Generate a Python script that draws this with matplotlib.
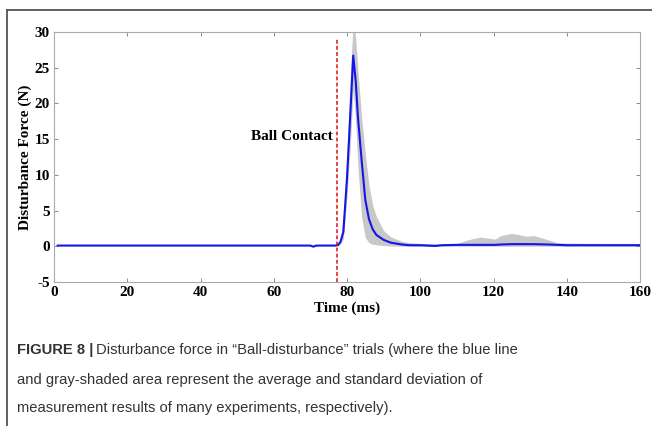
import matplotlib
matplotlib.use("Agg")
import matplotlib.pyplot as plt
import numpy as np
from matplotlib.lines import Line2D

# ---- data ----
time_ms = [1, 70, 70.8, 71.6, 77, 77.6, 78.2, 79, 80, 81, 81.7, 82.4, 83,
           84, 85, 86, 87, 88, 90, 92, 95, 97, 100, 104, 106, 110, 113, 116.3,
           120.4, 122, 125, 127.2, 129, 131, 135, 137.5, 140, 150, 160]
mean_force = [0.1, 0.1, -0.05, 0.1, 0.1, 0.2, 0.6, 2.0, 9.5, 19.5, 26.7, 23.0, 18.0,
              12.0, 6.5, 3.8, 2.4, 1.6, 0.9, 0.5, 0.25, 0.15, 0.15, 0.05, 0.15, 0.2, 0.2, 0.2,
              0.2, 0.25, 0.3, 0.3, 0.3, 0.3, 0.25, 0.2, 0.15, 0.15, 0.15]
upper_force = [0.1, 0.1, 0.05, 0.1, 0.1, 0.3, 1.0, 4.0, 13.0, 25.0, 31.5, 29.0, 24.5,
               18.0, 13.0, 8.5, 5.8, 4.2, 2.2, 1.3, 0.7, 0.5, 0.4, 0.35, 0.35, 0.4, 0.9, 1.3,
               1.0, 1.5, 1.8, 1.6, 1.4, 1.5, 0.9, 0.5, 0.45, 0.4, 0.4]
lower_force = [0.1, 0.1, -0.1, 0.1, 0.1, 0.1, 0.3, 1.0, 7.0, 15.0, 22.0, 17.0, 11.0,
               4.0, 1.2, 0.5, 0.3, 0.2, 0.1, 0.05, 0.0, 0.0, 0.0, 0.0, 0.0, 0.0, 0.0, 0.0,
               0.0, 0.0, 0.0, 0.0, 0.0, 0.0, 0.0, 0.0, 0.0, 0.0, 0.0]
contact_time = 77.4
x_ticks = [0, 20, 40, 60, 80, 100, 120, 140, 160]
y_ticks = [-5, 0, 5, 10, 15, 20, 25, 30]

serif = ["Liberation Serif", "DejaVu Serif"]
fs = 11

fig = plt.figure(figsize=(6.52, 4.26), dpi=100)
ax = fig.add_axes([54/652, 1-282/426, 586/652, 250/426])

ax.fill_between(time_ms, lower_force, upper_force, color="#c8c8c8", lw=0, zorder=1)
ax.plot(time_ms, mean_force, color="#1515e6", lw=1.5, zorder=3)
ax.axvline(contact_time, ymin=0, ymax=(29 + 5) / 35, color="#e01010", ls=(0, (2.5, 1.5)), lw=1.1, zorder=4)
ax.text(contact_time - 1.3, 15.3, "Ball Contact", ha="right", va="center",
        fontsize=fs, fontweight="bold", family=serif)

ax.set_xlim(0, 160)
ax.set_ylim(-5, 30)
ax.set_xticks(x_ticks)
ax.set_yticks(y_ticks)
ax.set_xticklabels([str(v) for v in x_ticks], fontsize=fs, fontweight="bold", family=serif)
ax.set_yticklabels([str(v) for v in y_ticks], fontsize=fs, fontweight="bold", family=serif)
ax.tick_params(direction="in", length=3, width=0.6, color="#777777", top=True, right=True)
ax.tick_params(axis="x", pad=3)
ax.tick_params(axis="y", pad=3)
for s in ax.spines.values():
    s.set_color("#aaaaaa")
    s.set_linewidth(0.8)
ax.set_xlabel("Time (ms)", fontsize=fs, fontweight="bold", family=serif, labelpad=2)
ax.set_ylabel("Disturbance Force (N)", fontsize=fs, fontweight="bold", family=serif, labelpad=2)

# frame lines of the figure panel
fig.add_artist(Line2D([7/652, 1], [1-10/426, 1-10/426], color="#555555", lw=1.3, transform=fig.transFigure))
fig.add_artist(Line2D([7/652, 7/652], [1-10/426, 0], color="#555555", lw=1.3, transform=fig.transFigure))

cap_family = ["Liberation Sans", "DejaVu Sans"]
cap_size = 10.6
t = fig.text(17/652, 1-350/426, "FIGURE 8 |", fontsize=cap_size, fontweight="bold",
             family=cap_family, color="#333333", va="center")
fig.canvas.draw()
bb = t.get_window_extent()
fig.text((bb.x1 + 3)/652, 1-350/426, "Disturbance force in \u201cBall-disturbance\u201d trials (where the blue line",
         fontsize=cap_size, family=cap_family, color="#333333", va="center")
fig.text(17/652, 1-380/426, "and gray-shaded area represent the average and standard deviation of",
         fontsize=cap_size, family=cap_family, color="#333333", va="center")
fig.text(17/652, 1-408/426, "measurement results of many experiments, respectively).",
         fontsize=cap_size, family=cap_family, color="#333333", va="center")

fig.savefig("out.png", dpi=100)
